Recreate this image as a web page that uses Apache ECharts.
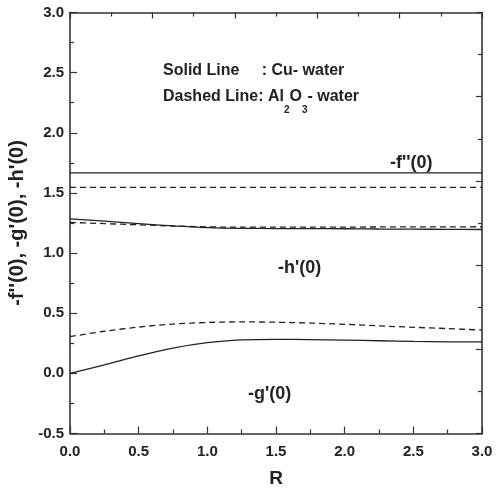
<!DOCTYPE html>
<html lang="en">
<head>
<meta charset="UTF-8">
<title>-f''(0), -g'(0), -h'(0) vs R</title>
<script src="https://cdn.jsdelivr.net/npm/echarts@6/dist/echarts.min.js"></script>
<style>
  html, body { margin: 0; padding: 0; background: #fff; }
  #main { width: 496px; height: 488px; }
</style>
</head>
<body>
<div id="main"></div>
<script type="text/javascript">
    // values
    var R = [0, 0.25, 0.5, 0.75, 1.0, 1.25, 1.5, 1.75, 2.0, 2.25, 2.5, 2.75, 3.0];
    var fCu = [1.667, 1.667, 1.667, 1.667, 1.667, 1.667, 1.667, 1.667, 1.667, 1.667, 1.667, 1.667, 1.667];
    var fAl = [1.547, 1.547, 1.547, 1.547, 1.547, 1.547, 1.547, 1.547, 1.547, 1.547, 1.547, 1.547, 1.547];
    var hCu = [1.285, 1.265, 1.245, 1.226, 1.212, 1.206, 1.204, 1.203, 1.202, 1.200, 1.199, 1.197, 1.196];
    var hAl = [1.255, 1.245, 1.235, 1.225, 1.218, 1.215, 1.215, 1.215, 1.216, 1.217, 1.218, 1.218, 1.219];
    var gCu = [0.0, 0.07, 0.145, 0.21, 0.255, 0.278, 0.283, 0.281, 0.276, 0.271, 0.266, 0.262, 0.261];
    var gAl = [0.305, 0.35, 0.385, 0.41, 0.423, 0.428, 0.425, 0.418, 0.408, 0.395, 0.383, 0.372, 0.36];

    var FONT = "'Liberation Sans', Arial, sans-serif";
    var INK = '#222';

    function pairs(ys) {
        return R.map(function (x, i) { return [x, ys[i]]; });
    }

    function line(name, ys, dashed) {
        return {
            name: name,
            type: 'line',
            data: pairs(ys),
            showSymbol: false,
            smooth: 0.3,
            xAxisIndex: 0,
            yAxisIndex: 0,
            lineStyle: {
                color: INK,
                width: 1.3,
                type: dashed ? [6, 4] : 'solid'
            }
        };
    }

    var tickStyle = { color: '#333', width: 1.2 };

    var myChart = echarts.init(document.getElementById('main'));
    var option = {
        animation: false,
        backgroundColor: '#fff',
        grid: { left: 70, right: 14, top: 12.5, bottom: 54.5, outerBoundsMode: 'none', containLabel: false },
        xAxis: [
            {
                type: 'value', min: 0, max: 3, interval: 0.5,
                name: 'R', nameLocation: 'middle', nameGap: 36,
                nameTextStyle: { fontFamily: FONT, fontWeight: 'bold', fontSize: 19, color: INK },
                axisLine: { show: true, onZero: false, lineStyle: { color: '#333', width: 1.6 } },
                axisTick: { inside: true, length: 7, lineStyle: tickStyle },
                minorTick: { show: true, splitNumber: 2, length: 4, lineStyle: tickStyle },
                axisLabel: {
                    margin: 11, fontFamily: FONT, fontWeight: 'bold', fontSize: 15, color: INK,
                    formatter: function (v) { return v.toFixed(1); }
                },
                splitLine: { show: false }
            },
            {
                type: 'value', min: 0, max: 10, interval: 2, position: 'top',
                axisLine: { show: true, onZero: false, lineStyle: { color: '#333', width: 1.6 } },
                axisTick: { inside: true, length: 6, lineStyle: tickStyle },
                minorTick: { show: true, splitNumber: 2, length: 4, lineStyle: tickStyle },
                axisLabel: { show: false },
                splitLine: { show: false }
            }
        ],
        yAxis: [
            {
                type: 'value', min: -0.5, max: 3, interval: 0.5,
                name: "-f''(0), -g'(0), -h'(0)", nameLocation: 'middle', nameGap: 33, nameRotate: 90,
                nameTextStyle: { fontFamily: FONT, fontWeight: 'bold', fontSize: 20, color: INK },
                axisLine: { show: true, onZero: false, lineStyle: { color: '#333', width: 1.6 } },
                axisTick: { inside: true, length: 7, lineStyle: tickStyle },
                minorTick: { show: true, splitNumber: 2, length: 4, lineStyle: tickStyle },
                axisLabel: {
                    margin: 6, fontFamily: FONT, fontWeight: 'bold', fontSize: 15, color: INK,
                    formatter: function (v) { return v.toFixed(1); }
                },
                splitLine: { show: false }
            },
            {
                type: 'value', min: 0, max: 10, interval: 2, position: 'right',
                axisLine: { show: true, onZero: false, lineStyle: { color: '#333', width: 1.6 } },
                axisTick: { inside: true, length: 6, lineStyle: tickStyle },
                minorTick: { show: true, splitNumber: 2, length: 4, lineStyle: tickStyle },
                axisLabel: { show: false },
                splitLine: { show: false }
            }
        ],
        graphic: [
            {
                type: 'text', left: 163, top: 63,
                style: {
                    text: 'Solid Line     : Cu- water',
                    font: 'bold 16px ' + FONT, fill: INK
                }
            },
            {
                type: 'text', left: 163, top: 89,
                style: {
                    text: 'Dashed Line: Al{sub|2}O{sub|3}- water',
                    font: 'bold 16px ' + FONT, fill: INK,
                    rich: {
                        sub: { font: 'bold 10px ' + FONT, fill: INK, verticalAlign: 'bottom', padding: [26, 0, 0, 0] }
                    }
                }
            },
            {
                type: 'text', left: 390, top: 154,
                style: { text: "-f''(0)", font: 'bold 18px ' + FONT, fill: INK }
            },
            {
                type: 'text', left: 278, top: 259,
                style: { text: "-h'(0)", font: 'bold 18px ' + FONT, fill: INK }
            },
            {
                type: 'text', left: 248, top: 385,
                style: { text: "-g'(0)", font: 'bold 18px ' + FONT, fill: INK }
            }
        ],
        series: [
            line("Cu -f''(0)", fCu, false),
            line("Al2O3 -f''(0)", fAl, true),
            line("Cu -h'(0)", hCu, false),
            line("Al2O3 -h'(0)", hAl, true),
            line("Cu -g'(0)", gCu, false),
            line("Al2O3 -g'(0)", gAl, true)
        ]
    };
    myChart.setOption(option);
</script>
</body>
</html>
